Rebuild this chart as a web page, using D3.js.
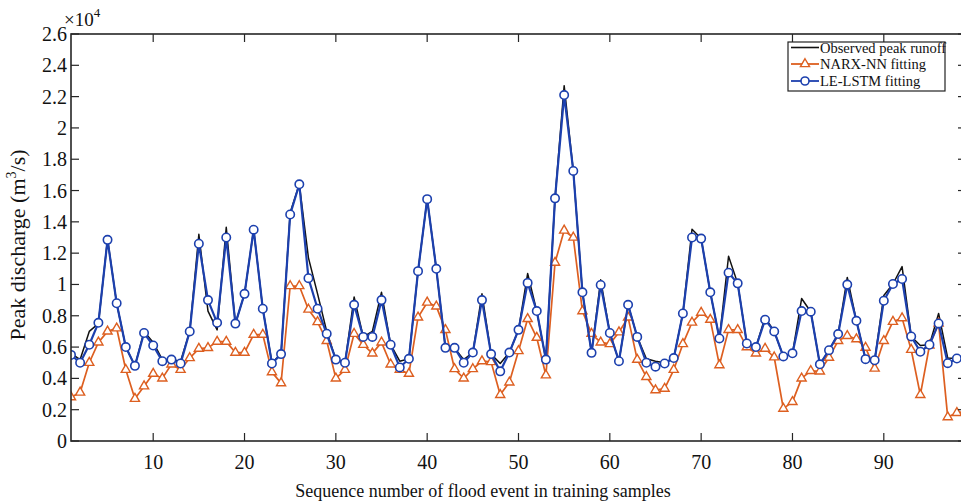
<!DOCTYPE html>
<html>
<head>
<meta charset="utf-8">
<script src="https://cdn.jsdelivr.net/npm/d3@7"></script>
<style>
  html, body { margin: 0; padding: 0; background: #fff; }
  svg { display: block; font-family: "Liberation Serif", "Times New Roman", serif; }
</style>
</head>
<body>
<svg id="chart" width="961" height="501"></svg>
<script>
// Values in units of 1e4 m3/s
const observed = [0.56,0.52,0.70,0.75,1.29,0.88,0.60,0.48,0.70,0.63,
  0.52,0.52,0.51,0.70,1.32,0.83,0.71,1.365,0.75,0.94,
  1.35,0.845,0.50,0.555,1.46,1.64,1.17,0.94,0.70,0.52,
  0.50,0.92,0.665,0.70,0.95,0.615,0.51,0.525,1.085,1.545,
  1.10,0.595,0.595,0.52,0.565,0.94,0.555,0.495,0.565,0.71,
  1.07,0.83,0.52,1.55,2.27,1.725,0.95,0.563,1.03,0.69,
  0.51,0.87,0.665,0.525,0.51,0.50,0.53,0.815,1.353,1.293,
  0.95,0.655,1.18,1.007,0.623,0.60,0.79,0.70,0.54,0.56,
  0.91,0.826,0.49,0.58,0.683,1.045,0.768,0.523,0.516,0.93,
  1.003,1.114,0.668,0.61,0.615,0.815,0.53,0.527,0.53];
const narxNN = [0.28,0.31,0.50,0.63,0.70,0.72,0.455,0.27,0.35,0.43,
  0.40,0.49,0.455,0.53,0.59,0.595,0.635,0.635,0.565,0.565,
  0.68,0.68,0.44,0.37,0.99,0.99,0.84,0.76,0.64,0.40,
  0.455,0.685,0.615,0.56,0.63,0.49,0.455,0.43,0.79,0.885,
  0.86,0.71,0.46,0.40,0.46,0.51,0.505,0.295,0.375,0.575,
  0.78,0.66,0.42,1.14,1.345,1.30,0.83,0.685,0.63,0.62,
  0.695,0.79,0.52,0.41,0.325,0.335,0.455,0.62,0.757,0.82,
  0.775,0.485,0.71,0.71,0.60,0.56,0.59,0.535,0.207,0.25,
  0.40,0.448,0.445,0.533,0.64,0.672,0.651,0.597,0.463,0.64,
  0.762,0.785,0.583,0.295,0.61,0.751,0.153,0.18,0.19];
const leLSTM = [0.55,0.50,0.615,0.755,1.285,0.88,0.60,0.48,0.69,0.61,
  0.51,0.52,0.495,0.70,1.26,0.90,0.755,1.30,0.75,0.94,
  1.35,0.845,0.495,0.555,1.447,1.64,1.04,0.845,0.685,0.52,
  0.50,0.87,0.665,0.665,0.90,0.615,0.47,0.525,1.085,1.545,
  1.10,0.595,0.595,0.50,0.565,0.90,0.555,0.445,0.565,0.71,
  1.01,0.83,0.52,1.55,2.21,1.725,0.95,0.563,0.997,0.69,
  0.51,0.87,0.665,0.50,0.475,0.495,0.53,0.815,1.30,1.293,
  0.95,0.655,1.075,1.007,0.623,0.60,0.775,0.70,0.54,0.56,
  0.83,0.826,0.49,0.58,0.683,0.999,0.768,0.523,0.516,0.896,
  1.003,1.035,0.668,0.57,0.615,0.751,0.497,0.527,0.53];
const xTicks = [10,20,30,40,50,60,70,80,90];
const yTicks = [0,0.2,0.4,0.6,0.8,1,1.2,1.4,1.6,1.8,2,2.2,2.4,2.6];
const seriesNames = ["Observed peak runoff", "NARX-NN fitting", "LE-LSTM fitting"];

const svg = d3.select("#chart");
const L = 71, T = 34, R = 966, B = 441;
const x = d3.scaleLinear().domain([1, 99]).range([L, R]);
const y = d3.scaleLinear().domain([0, 2.6]).range([B, T]);

const axisColor = "#262626";
const cBlack = "#111111", cOrange = "#dd5f20", cBlue = "#1c40ae";

svg.append("clipPath").attr("id", "clip")
  .append("rect").attr("x", L).attr("y", T).attr("width", R - L).attr("height", B - T);

const idx = d3.range(1, observed.length + 1);
const line = arr => d3.line().x((d, i) => x(idx[i])).y(d => y(d))(arr);

const g = svg.append("g").attr("clip-path", "url(#clip)");
g.append("path").attr("d", line(observed)).attr("fill", "none")
  .attr("stroke", cBlack).attr("stroke-width", 1.5).attr("stroke-linejoin", "round");
g.append("path").attr("d", line(narxNN)).attr("fill", "none")
  .attr("stroke", cOrange).attr("stroke-width", 1.7).attr("stroke-linejoin", "round");
const tri = d3.symbol().type(d3.symbolTriangle).size(36);
g.selectAll(".tri").data(narxNN).join("path")
  .attr("transform", (d, i) => `translate(${x(idx[i])},${y(d)})`)
  .attr("d", tri()).attr("fill", "#fff").attr("stroke", cOrange).attr("stroke-width", 1.4);
g.append("path").attr("d", line(leLSTM)).attr("fill", "none")
  .attr("stroke", cBlue).attr("stroke-width", 2.2).attr("stroke-linejoin", "round");
g.selectAll(".cir").data(leLSTM).join("circle")
  .attr("cx", (d, i) => x(idx[i])).attr("cy", d => y(d)).attr("r", 4.2)
  .attr("fill", "#fff").attr("stroke", cBlue).attr("stroke-width", 1.6);

// Axes box
const ax = svg.append("g");
const tickLen = 8;
ax.append("rect").attr("x", L).attr("y", T).attr("width", R - L).attr("height", B - T)
  .attr("fill", "none").attr("stroke", axisColor).attr("stroke-width", 1.6);
xTicks.forEach(t => {
  ax.append("line").attr("x1", x(t)).attr("x2", x(t)).attr("y1", B).attr("y2", B - tickLen)
    .attr("stroke", axisColor).attr("stroke-width", 1.2);
  ax.append("line").attr("x1", x(t)).attr("x2", x(t)).attr("y1", T).attr("y2", T + tickLen)
    .attr("stroke", axisColor).attr("stroke-width", 1.2);
  ax.append("text").attr("x", x(t)).attr("y", 469).attr("text-anchor", "middle")
    .attr("font-size", 20).attr("fill", "#111").text(t);
});
yTicks.forEach(t => {
  ax.append("line").attr("x1", L).attr("x2", L + tickLen).attr("y1", y(t)).attr("y2", y(t))
    .attr("stroke", axisColor).attr("stroke-width", 1.2);
  ax.append("line").attr("x1", R).attr("x2", R - tickLen).attr("y1", y(t)).attr("y2", y(t))
    .attr("stroke", axisColor).attr("stroke-width", 1.2);
  ax.append("text").attr("x", 67).attr("y", y(t) + 7).attr("text-anchor", "end")
    .attr("font-size", 20).attr("fill", "#111").text(d3.format("~g")(t));
});

// Exponent
const ex = svg.append("text").attr("x", 64).attr("y", 26).attr("font-size", 19).attr("fill", "#111");
ex.append("tspan").text("\u00d710");
ex.append("tspan").attr("font-size", 13).attr("dy", -9).text("4");

// Axis titles
svg.append("text").attr("x", 483).attr("y", 497).attr("text-anchor", "middle")
  .attr("font-size", 18).attr("fill", "#111").text("Sequence number of flood event in training samples");
const yl = svg.append("text").attr("transform", "translate(25,245) rotate(-90)")
  .attr("text-anchor", "middle").attr("font-size", 22).attr("fill", "#111");
yl.append("tspan").text("Peak discharge (m");
yl.append("tspan").attr("font-size", 14).attr("dy", -9).text("3");
yl.append("tspan").attr("dy", 9).text("/s)");

// Legend
const lg = svg.append("g");
lg.append("rect").attr("x", 788).attr("y", 42).attr("width", 157).attr("height", 49)
  .attr("fill", "#fff").attr("stroke", "#222").attr("stroke-width", 1.2);
const legendColors = [cBlack, cOrange, cBlue];
const rowsY = [47.5, 64, 81];
seriesNames.forEach((name, i) => {
  const yy = rowsY[i];
  lg.append("line").attr("x1", 791).attr("x2", 819).attr("y1", yy).attr("y2", yy)
    .attr("stroke", legendColors[i]).attr("stroke-width", i === 0 ? 1.6 : 1.8);
  if (i === 1) lg.append("path").attr("transform", `translate(805,${yy})`).attr("d", tri())
    .attr("fill", "#fff").attr("stroke", cOrange).attr("stroke-width", 1.4);
  if (i === 2) lg.append("circle").attr("cx", 805).attr("cy", yy).attr("r", 4)
    .attr("fill", "#fff").attr("stroke", cBlue).attr("stroke-width", 1.6);
  lg.append("text").attr("x", 820).attr("y", yy + 5).attr("font-size", 14.5).attr("fill", "#111").text(name);
});
</script>
</body>
</html>
